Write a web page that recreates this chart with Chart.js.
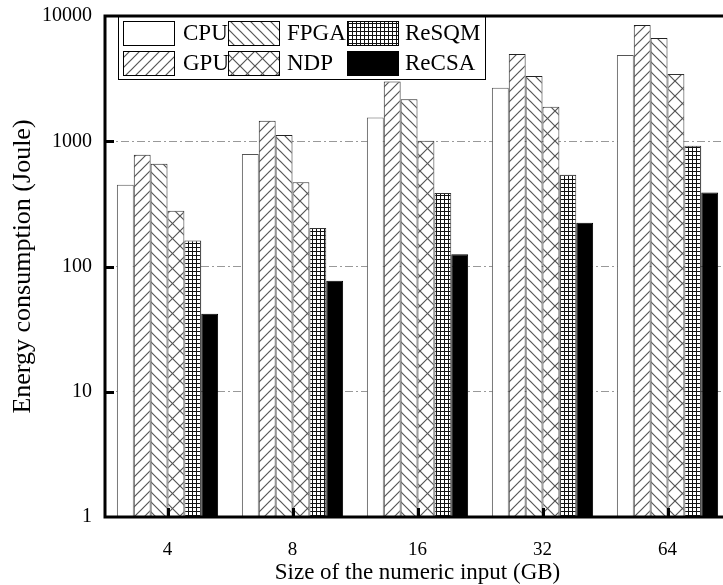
<!DOCTYPE html>
<html>
<head>
<meta charset="utf-8">
<script src="https://cdn.jsdelivr.net/npm/chart.js@4/dist/chart.umd.min.js"></script>
<style>
  html, body { margin: 0; padding: 0; background: #fff; overflow: hidden; }
  #wrap { width: 723px; height: 585px; overflow: hidden; position: relative; }
  canvas { display: block; margin-top: -9px; }
</style>
</head>
<body>
<div id="wrap"><canvas id="chart" width="735" height="594"></canvas></div>
<script>
// data
const categories = ['4', '8', '16', '32', '64'];
const seriesNames = ['CPU', 'GPU', 'FPGA', 'NDP', 'ReSQM', 'ReCSA'];
const cpu = [450, 791, 1549, 2670, 4890];
const gpu = [780, 1456, 2997, 4980, 8480];
const fpga = [662, 1120, 2168, 3325, 6680];
const ndp = [279, 470, 1009, 1883, 3450];
const resqm = [161, 203, 387, 541, 921];
const recsa = [42, 77, 125, 224, 389];
const yTicks = [1, 10, 100, 1000, 10000];

const FONT = '"Liberation Serif", "Times New Roman", serif';

function makePattern(kind) {
  const size = kind === 'cross' ? 15 : (kind === 'grid' ? 4 : 10);
  const c = document.createElement('canvas');
  c.width = size; c.height = size;
  const g = c.getContext('2d');
  g.fillStyle = '#fff';
  g.fillRect(0, 0, size, size);
  g.lineWidth = 1.2;
  if (kind === 'grid') {
    g.fillStyle = '#111';
    g.fillRect(0, 0, size, 1);
    g.fillRect(0, 0, 1, size);
  } else {
    g.strokeStyle = '#555';
    const fwd = () => {
      g.beginPath();
      g.moveTo(-1, size + 1); g.lineTo(size + 1, -1);
      g.moveTo(-1, 1); g.lineTo(1, -1);
      g.moveTo(size - 1, size + 1); g.lineTo(size + 1, size - 1);
      g.stroke();
    };
    const back = () => {
      g.beginPath();
      g.moveTo(-1, -1); g.lineTo(size + 1, size + 1);
      g.moveTo(size - 1, -1); g.lineTo(size + 1, 1);
      g.moveTo(-1, size - 1); g.lineTo(1, size + 1);
      g.stroke();
    };
    if (kind === 'fwd') fwd();
    if (kind === 'back') back();
    if (kind === 'cross') { fwd(); back(); }
  }
  return g.createPattern(c, 'repeat');
}

const fills = ['#ffffff', makePattern('fwd'), makePattern('back'), makePattern('cross'), makePattern('grid'), '#000000'];
const borders = ['#555', '#222', '#222', '#333', '#333', '#000'];
const values = [cpu, gpu, fpga, ndp, resqm, recsa];

const datasets = seriesNames.map((name, i) => ({
  label: name,
  data: values[i],
  backgroundColor: fills[i],
  borderColor: borders[i],
  borderWidth: 1,
  borderSkipped: 'bottom',
  barPercentage: 1,
  categoryPercentage: 0.81
}));

// frame, inward ticks and the boxed legend
const decorPlugin = {
  id: 'decor',
  afterDraw(chart) {
    const ctx = chart.ctx;
    const a = chart.chartArea;
    const x = chart.scales.x, y = chart.scales.y;
    ctx.save();
    ctx.strokeStyle = '#000';
    // inward ticks
    ctx.lineWidth = 3;
    [10, 100, 1000].forEach(v => {
      const py = Math.round(y.getPixelForValue(v)) + 0.5;
      ctx.beginPath(); ctx.moveTo(a.left, py); ctx.lineTo(a.left + 9, py); ctx.stroke();
    });
    categories.forEach((c, i) => {
      const px = Math.round(x.getPixelForValue(i)) + 0.5;
      ctx.beginPath(); ctx.moveTo(px, a.bottom); ctx.lineTo(px, a.bottom - 9); ctx.stroke();
    });
    // frame
    ctx.lineWidth = 3;
    ctx.strokeRect(a.left, a.top, a.right - a.left, a.bottom - a.top);

    // legend
    const lx = 118, ly = a.top, lw = 367, lh = 63;
    ctx.fillStyle = '#fff';
    ctx.fillRect(lx, ly + 2, lw, lh - 2);
    ctx.lineWidth = 1;
    ctx.strokeRect(lx + 0.5, ly + 0.5, lw, lh);
    const colX = [123, 228, 347];
    const textX = [183, 287, 405];
    const rowY = [ly + 5, ly + 35];
    const order = [[0, 1], [2, 3], [4, 5]];
    ctx.font = '23px ' + FONT;
    ctx.textBaseline = 'middle';
    ctx.textAlign = 'left';
    order.forEach((pair, ci) => {
      pair.forEach((di, ri) => {
        const sx = colX[ci], sy = rowY[ri];
        ctx.fillStyle = fills[di];
        ctx.fillRect(sx, sy, 51, 24);
        ctx.strokeStyle = '#000';
        ctx.strokeRect(sx + 0.5, sy + 0.5, 51, 24);
        ctx.fillStyle = '#000';
        ctx.fillText(seriesNames[di], textX[ci], sy + 13);
      });
    });
    ctx.restore();
  }
};

new Chart(document.getElementById('chart'), {
  type: 'bar',
  data: { labels: categories, datasets: datasets },
  plugins: [decorPlugin],
  options: {
    responsive: false,
    animation: false,
    layout: { padding: { top: 6, right: 5, left: 0, bottom: 0 } },
    plugins: {
      legend: { display: false },
      tooltip: { enabled: false }
    },
    scales: {
      x: {
        grid: { display: false, drawTicks: false },
        border: { display: false },
        ticks: { color: '#000', font: { family: FONT, size: 19 }, padding: 22 },
        title: {
          display: true,
          text: 'Size of the numeric input (GB)',
          color: '#000',
          font: { family: FONT, size: 23 },
          padding: { top: 4, bottom: -2 }
        },
        afterFit(s) { s.height = 68; }
      },
      y: {
        type: 'logarithmic',
        min: 1,
        max: 10000,
        afterBuildTicks(s) { s.ticks = yTicks.map(v => ({ value: v })); },
        grid: {
          drawTicks: false,
          color: ctx => (ctx.tick && (ctx.tick.value === 10 || ctx.tick.value === 100 || ctx.tick.value === 1000)) ? '#999' : 'rgba(0,0,0,0)',
          lineWidth: 1
        },
        border: { display: false, dash: [8, 3, 2, 3] },
        ticks: {
          color: '#000',
          font: { family: FONT, size: 20 },
          padding: 13,
          callback: v => String(v)
        },
        title: {
          display: true,
          text: 'Energy consumption (Joule)',
          color: '#000',
          font: { family: FONT, size: 26 },
          padding: { top: 8, bottom: 0 }
        },
        afterFit(s) { s.width = 105; }
      }
    }
  }
});
</script>
</body>
</html>
